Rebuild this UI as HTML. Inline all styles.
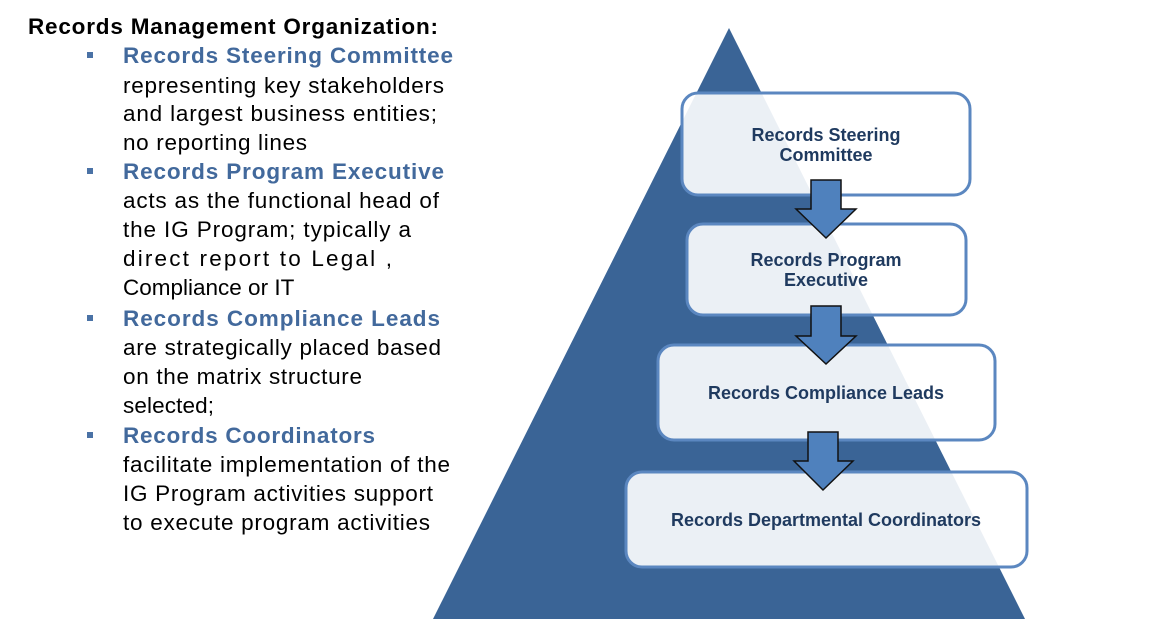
<!DOCTYPE html>
<html><head><meta charset="utf-8"><style>
html,body{margin:0;padding:0;background:#fff;}
svg{display:block;}
text{font-family:"Liberation Sans",Arial,sans-serif;}
</style></head><body>
<svg width="1156" height="637" viewBox="0 0 1156 637" xmlns="http://www.w3.org/2000/svg">
<rect width="1156" height="637" fill="#fff"/>
<g font-size="22.5">
<text x="28" y="34" font-weight="bold" font-size="22.5" fill="#000" textLength="410" lengthAdjust="spacing">Records Management Organization:</text>
<g fill="#4a72a6"><rect x="87" y="52" width="6" height="6"/><rect x="87" y="168" width="6" height="6"/><rect x="87" y="315" width="6" height="6"/><rect x="87" y="432" width="6" height="6"/></g>
<g font-weight="bold" fill="#42699c">
<text x="123" y="63" textLength="330" lengthAdjust="spacing">Records Steering Committee</text>
<text x="123" y="179" textLength="321" lengthAdjust="spacing">Records Program Executive</text>
<text x="123" y="326" textLength="317" lengthAdjust="spacing">Records Compliance Leads</text>
<text x="123" y="443" textLength="252" lengthAdjust="spacing">Records Coordinators</text>
</g>
<g fill="#000">
<text x="123" y="93" textLength="321" lengthAdjust="spacing">representing key stakeholders</text>
<text x="123" y="121" textLength="314" lengthAdjust="spacing">and largest business entities;</text>
<text x="123" y="150" textLength="184" lengthAdjust="spacing">no reporting lines</text>
<text x="123" y="208" textLength="316" lengthAdjust="spacing">acts as the functional head of</text>
<text x="123" y="237" textLength="288" lengthAdjust="spacing">the IG Program; typically a</text>
<text x="123" y="266" textLength="269" lengthAdjust="spacing">direct report to Legal ,</text>
<text x="123" y="295">Compliance or IT</text>
<text x="123" y="355" textLength="318" lengthAdjust="spacing">are strategically placed based</text>
<text x="123" y="384" textLength="239" lengthAdjust="spacing">on the matrix structure</text>
<text x="123" y="413" textLength="91" lengthAdjust="spacing">selected;</text>
<text x="123" y="472" textLength="327" lengthAdjust="spacing">facilitate implementation of the</text>
<text x="123" y="501" textLength="310" lengthAdjust="spacing">IG Program activities support</text>
<text x="123" y="530" textLength="307" lengthAdjust="spacing">to execute program activities</text>
</g>
</g>
<polygon points="729,28 1025,619 433,619" fill="#3a6496"/>
<g fill="rgba(255,255,255,0.9)" stroke="#5b87c0" stroke-width="3">
<rect x="682" y="93" width="288" height="102" rx="16"/>
<rect x="687" y="224" width="279" height="91" rx="16"/>
<rect x="658" y="345" width="337" height="95" rx="16"/>
<rect x="626" y="472" width="401" height="95" rx="16"/>
</g>
<g fill="#4f81bd" stroke="#111" stroke-width="1.5">
<polygon points="811,180 841,180 841,209 856,209 826,238 796,209 811,209"/>
<polygon points="811,306 841,306 841,336 856,336 826,364 796,336 811,336"/>
<polygon points="808,432 838,432 838,461 853,461 823,490 794,461 808,461"/>
</g>
<g font-size="18" font-weight="bold" fill="#1f3a5f" text-anchor="middle">
<text x="826" y="141">Records Steering</text>
<text x="826" y="161">Committee</text>
<text x="826" y="266">Records Program</text>
<text x="826" y="286">Executive</text>
<text x="826" y="399">Records Compliance Leads</text>
<text x="826" y="526">Records Departmental Coordinators</text>
</g>
</svg>
</body></html>
